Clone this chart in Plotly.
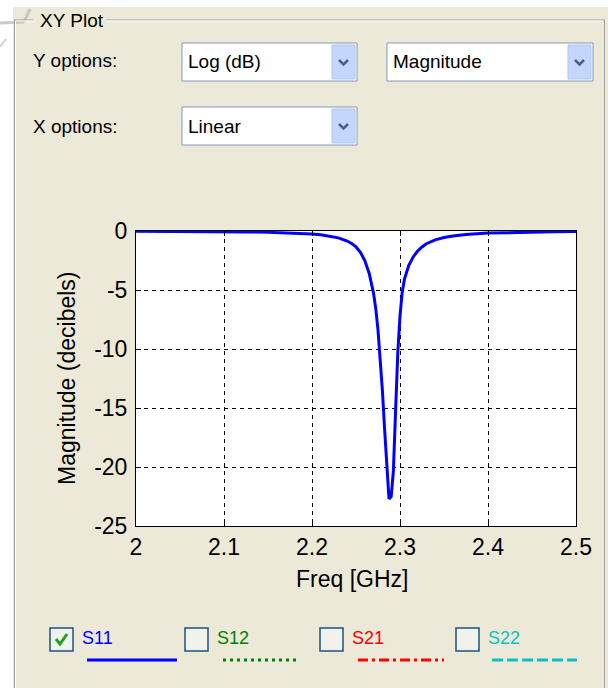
import plotly.graph_objects as go

# ---------------- data ----------------
freq_ghz = [2.000, 2.025, 2.050, 2.075, 2.100, 2.125, 2.150, 2.175, 2.200, 2.210,
            2.220, 2.230, 2.240, 2.245, 2.250, 2.255, 2.260, 2.265, 2.270, 2.2725,
            2.275, 2.2775, 2.280, 2.2825, 2.285, 2.2875, 2.290, 2.2925, 2.295, 2.2975,
            2.300, 2.3025, 2.305, 2.310, 2.315, 2.320, 2.325, 2.330, 2.340, 2.350,
            2.360, 2.375, 2.400, 2.425, 2.450, 2.475, 2.500]
s11_db = [-0.03, -0.03, -0.04, -0.05, -0.06, -0.08, -0.11, -0.16, -0.25, -0.32,
          -0.42, -0.58, -0.85, -1.05, -1.35, -1.8, -2.5, -3.6, -5.3, -6.6,
          -8.4, -10.6, -13.5, -16.8, -19.8, -22.7, -22.5, -20.3, -15.2, -10.3,
          -7.2, -5.2, -4.1, -2.9, -2.2, -1.7, -1.35, -1.08, -0.75, -0.55,
          -0.42, -0.3, -0.18, -0.12, -0.08, -0.06, -0.05]

x_ticks = [2.0, 2.1, 2.2, 2.3, 2.4, 2.5]
x_tick_labels = ["2", "2.1", "2.2", "2.3", "2.4", "2.5"]
y_ticks = [-25, -20, -15, -10, -5, 0]
y_tick_labels = ["-25", "-20", "-15", "-10", "-5", "0"]

legend_names = ["S11", "S12", "S21", "S22"]
legend_colors = ["#0000FF", "#008000", "#FF0000", "#10C0C0"]
legend_checked = [True, False, False, False]

# ---------------- layout geometry (pixels) ----------------
W, H = 608, 688
L, R, T, B = 136, 576, 231, 526
FONT = "Arial, Liberation Sans, sans-serif"
BG = "#ECE9D8"


def px(x):
    return (x - L) / (R - L)


def py(y):
    return (B - y) / (B - T)


shapes = []
annotations = []


def rect(x0, y0, x1, y1, fill=None, line_color=None, lw=1):
    shapes.append(dict(type="rect", xref="paper", yref="paper",
                       x0=px(x0), x1=px(x1), y0=py(y0), y1=py(y1),
                       fillcolor=fill if fill else "rgba(0,0,0,0)",
                       line=dict(color=line_color if line_color else "rgba(0,0,0,0)",
                                 width=lw if line_color else 0),
                       layer="above"))


def line(x0, y0, x1, y1, color, lw=1, dash="solid"):
    shapes.append(dict(type="line", xref="paper", yref="paper",
                       x0=px(x0), x1=px(x1), y0=py(y0), y1=py(y1),
                       line=dict(color=color, width=lw, dash=dash), layer="above"))


def path(points, color, lw=2):
    d = "M " + " L ".join(f"{px(a)},{py(b)}" for a, b in points)
    shapes.append(dict(type="path", xref="paper", yref="paper", path=d,
                       line=dict(color=color, width=lw), layer="above"))


def text(x, y, s, color="black", size=19, anchor="left"):
    annotations.append(dict(xref="paper", yref="paper", x=px(x), y=py(y), text=s,
                            showarrow=False, xanchor=anchor, yanchor="middle",
                            font=dict(family=FONT, size=size, color=color)))


# white strips (outside window)
rect(0, 0, W, 7, fill="white")
rect(0, 0, 13, H, fill="white")
# faint artifact top-left
line(0, 23, 24, 22, "rgba(190,190,190,0.8)", 3)
line(24, 22, 30, 9, "rgba(190,190,190,0.8)", 3)
line(0, 47, 6, 39, "rgba(200,200,200,0.8)", 2)

# group box frame
line(14.5, 20, 14.5, H, "#A0A0A0", 1)
line(15.5, 21, 15.5, H, "white", 1)
line(604.5, 20, 604.5, H, "#A0A0A0", 1)
line(14, 20, 33, 20, "#A0A0A0", 1)
line(106, 20, 605, 20, "#A0A0A0", 1)
line(16, 21, 33, 21, "white", 1)
line(106, 21, 603, 21, "white", 1)
text(38, 20, "XY Plot", size=19)

# option labels
text(31, 60, "Y options:", size=19)
text(31, 126, "X options:", size=19)


def combo(x0, y0, x1, y1, label):
    rect(x0, y0, x1, y1, fill="white", line_color="#7F9DB9")
    bx0, bx1 = x1 - 25, x1 - 2
    rect(bx0, y0 + 2, bx1, y1 - 2, fill="#C4D6FB", line_color="#B1C6F3")
    cx, cy = (bx0 + bx1) / 2, (y0 + y1) / 2
    path([(cx - 4.5, cy - 2), (cx, cy + 2.5), (cx + 4.5, cy - 2)], "#4D6185", 2.5)
    text(x0 + 4, (y0 + y1) / 2, label, size=19)


combo(182, 43, 357, 81, "Log (dB)")
combo(387, 43, 593, 81, "Magnitude")
combo(182, 107, 357, 145, "Linear")

# custom legend with checkboxes
legend_x = [50, 185, 320, 456]
line_spans = [(87, 177), (223, 300), (358, 444), (492, 577)]
line_dashes = ["solid", "3px,4px", "10px,4px,3px,4px", "11px,4px"]
for i, name in enumerate(legend_names):
    x0 = legend_x[i]
    rect(x0, 628, x0 + 23, 651, fill="#F2F2EC", line_color="#1C5180", lw=1.5)
    if legend_checked[i]:
        path([(x0 + 6, 639), (x0 + 10, 644), (x0 + 17, 634)], "#21A121", 3)
    text(x0 + 30, 638, name, color=legend_colors[i], size=18)
    a, b = line_spans[i]
    line(a, 660, b, 660, legend_colors[i], 3, line_dashes[i])

# axis titles
text(352, 579, "Freq [GHz]", size=23, anchor="center")
annotations.append(dict(xref="paper", yref="paper", x=px(67), y=py(378),
                        text="Magnitude (decibels)", showarrow=False, textangle=-90,
                        xanchor="center", yanchor="middle",
                        font=dict(family=FONT, size=23, color="black")))

fig = go.Figure()
fig.add_trace(go.Scatter(x=freq_ghz, y=s11_db, mode="lines",
                         line=dict(color="#0000FF", width=3),
                         cliponaxis=False, hoverinfo="skip", showlegend=False))

axis_common = dict(showline=True, linecolor="black", linewidth=1, mirror="ticks",
                   ticks="inside", ticklen=5, tickcolor="black",
                   showgrid=True, gridcolor="black", gridwidth=1, griddash="4px,4px",
                   zeroline=False, tickfont=dict(family=FONT, size=23, color="black"),
                   fixedrange=True)

fig.update_xaxes(range=[2.0, 2.5], tickvals=x_ticks, ticktext=x_tick_labels,
                 **axis_common)
fig.update_yaxes(range=[-25, 0], tickvals=y_ticks, ticktext=y_tick_labels,
                 ticklabelstandoff=3, **axis_common)

fig.update_layout(width=W, height=H, autosize=False,
                  margin=dict(l=L, r=W - R, t=T, b=H - B, pad=0),
                  paper_bgcolor=BG, plot_bgcolor="white",
                  shapes=shapes, annotations=annotations, showlegend=False)

fig.write_html("out.html")
